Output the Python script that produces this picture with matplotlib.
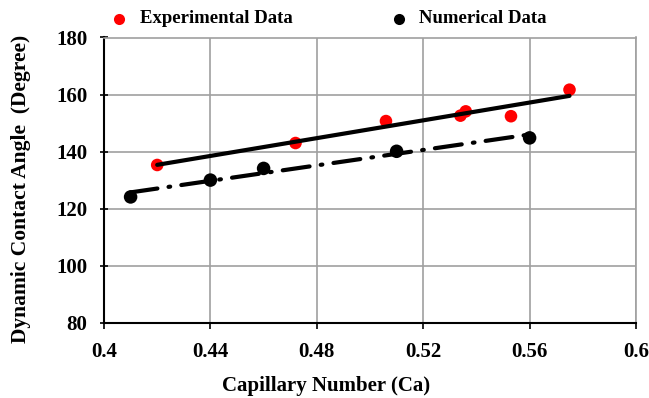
import matplotlib
matplotlib.use("Agg")
import matplotlib.pyplot as plt
import numpy as np
from matplotlib.lines import Line2D

exp_ca = [0.420, 0.472, 0.506, 0.534, 0.536, 0.553, 0.575]
exp_angle = [135.3, 143.0, 150.7, 152.6, 154.1, 152.4, 161.7]
num_ca = [0.41, 0.44, 0.46, 0.51, 0.56]
num_angle = [124.1, 130.0, 134.1, 140.1, 144.8]
xticks = [0.4, 0.44, 0.48, 0.52, 0.56, 0.6]
xticklabels = ["0.4", "0.44", "0.48", "0.52", "0.56", "0.6"]
yticks = [80, 100, 120, 140, 160, 180]
legend_labels = ["Experimental Data", "Numerical Data"]

plt.rcParams['font.family'] = ['Liberation Serif']
plt.rcParams['font.weight'] = 'bold'

W, H = 649, 398
fig = plt.figure(figsize=(6.49, 3.98), dpi=100)
ax = fig.add_axes([104 / W, 1 - 322.7 / H, 532 / W, 285.2 / H])

# linear trend lines
pe = np.polyfit(exp_ca, exp_angle, 1)
xe = np.array([min(exp_ca), max(exp_ca)])
ax.plot(xe, np.polyval(pe, xe), color='black', lw=3, zorder=3, solid_capstyle='round')
pn = np.polyfit(num_ca, num_angle, 1)
xn = np.array([min(num_ca), max(num_ca)])
ax.plot(xn, np.polyval(pn, xn), color='black', lw=3, zorder=3,
        dashes=(6.5, 2.7, 0.4, 2.7), dash_capstyle='round')

ax.scatter(exp_ca, exp_angle, s=82, color='#ff0000', zorder=2, edgecolors='none')
ax.scatter(num_ca, num_angle, s=95, color='black', zorder=4, edgecolors='none')

ax.set_xlim(0.4, 0.6)
ax.set_ylim(80, 180)
ax.set_xticks(xticks)
ax.set_xticklabels(xticklabels)
ax.set_yticks(yticks)
ax.grid(True, color='#a0a0a0', lw=1.2)
ax.set_axisbelow(True)
for s in ['top', 'right']:
    ax.spines[s].set_color('#a0a0a0')
    ax.spines[s].set_linewidth(1.2)
for s in ['left', 'bottom']:
    ax.spines[s].set_color('black')
    ax.spines[s].set_linewidth(1.5)
ax.tick_params(axis='y', direction='inout', length=6, width=1.2, labelsize=15, pad=9)
ax.tick_params(axis='x', direction='out', length=4, width=1.2, labelsize=15, pad=10)
for lab in ax.get_xticklabels() + ax.get_yticklabels():
    lab.set_fontweight('bold')

fig.text(326 / W, 1 - 386 / H, 'Capillary Number (Ca)', fontsize=15, fontweight='bold',
         ha='center', va='center')
fig.text(21 / W, 1 - 189 / H, 'Dynamic Contact Angle  (Degree)', fontsize=15.5,
         fontweight='bold', rotation=90, ha='center', va='center')

# legend (above the plot)
ly = 1 - 18.5 / H
fig.add_artist(Line2D([119 / W], [ly], transform=fig.transFigure, marker='o', ls='none',
                      color='#ff0000', markersize=8, markeredgewidth=0))
fig.text(140 / W, ly, legend_labels[0], fontsize=13.5, fontweight='bold', ha='left', va='center')
fig.add_artist(Line2D([399 / W], [ly], transform=fig.transFigure, marker='o', ls='none',
                      color='black', markersize=8, markeredgewidth=0))
fig.text(419 / W, ly, legend_labels[1], fontsize=13.5, fontweight='bold', ha='left', va='center')

fig.savefig('out.png', dpi=100)
